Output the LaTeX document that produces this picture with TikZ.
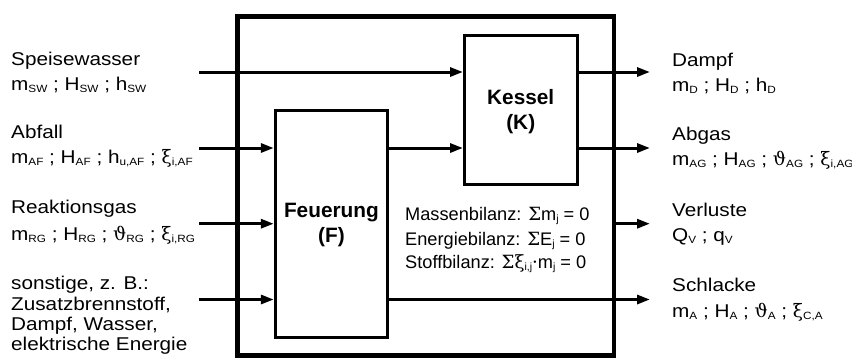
\documentclass[tikz,border=0pt]{standalone}
\usepackage{fontspec}
\setmainfont{Liberation Sans}
\newfontfamily\widefont{Liberation Sans}[FakeStretch=1.12]
\newfontfamily\grkfont{DejaVu Serif}
\usetikzlibrary{arrows.meta}
\newcommand\sbx[1]{\raisebox{-2pt}{\fontsize{10.5}{10.5}\selectfont #1}}
\newcommand\gk[1]{{\grkfont #1}}
\begin{document}
\begin{tikzpicture}[x=1pt,y=-1pt,
  lbl/.style={anchor=base west,inner sep=0pt,font=\widefont\fontsize{18.5}{20}\selectfont},
  bal/.style={anchor=base west,inner sep=0pt,font=\fontsize{18.2}{20}\selectfont},
  ttl/.style={anchor=base,inner sep=0pt,font=\bfseries\fontsize{20.8}{22}\selectfont},
  box/.style={draw,line width=3pt,inner sep=0pt,outer sep=0pt},
  flow/.style={line width=3pt,-{Triangle[length=13pt,width=9pt]}},
]
\useasboundingbox (0,0) rectangle (852,360);
% boxes
\node[box,line width=4.5pt,minimum width=376.5pt,minimum height=338.8pt] (outer) at (425.75,186.1) {};
\node[box,minimum width=112.5pt,minimum height=148.7pt] (K) at (520.75,109.65) {};
\node[box,minimum width=112.2pt,minimum height=226.5pt] (F) at (331.4,223.75) {};
% titles
\node[ttl] (k1) at (520.75,104) {Kessel};
\node[ttl] (k2) at (520.75,129.3) {(K)};
\node[ttl] (f1) at (331.4,217.3) {Feuerung};
\node[ttl] (f2) at (331.4,242.7) {(F)};
% balances
\node[bal] (b1) at (405,220.7) {Massenbilanz: \gk{Σ}m\sbx{j} = 0};
\node[bal] (b2) at (405,245) {Energiebilanz: \gk{Σ}E\sbx{j} = 0};
\node[bal] (b3) at (405,268.3) {Stoffbilanz: \gk{Σξ}\sbx{i,j}\gk{·}m\sbx{j} = 0};
% flow coordinates
\coordinate (sw) at (199,72);
\coordinate (af) at (199,148);
\coordinate (rg) at (199,223.7);
\coordinate (so) at (199,299.5);
\coordinate (dout) at (650,72);
\coordinate (agout) at (650,148);
\coordinate (vout) at (650,223.7);
\coordinate (sout) at (650,299.5);
% arrows
\draw[flow,shorten >=1.5pt] (sw) -- (sw -| K.west);
\draw[flow,shorten >=1.5pt] (af) -- (af -| F.west);
\draw[flow,shorten >=1.5pt] (af -| F.east) -- (af -| K.west);
\draw[flow,shorten >=1.5pt] (rg) -- (rg -| F.west);
\draw[flow,shorten >=1.5pt] (so) -- (so -| F.west);
\draw[flow] (dout -| K.east) -- (dout);
\draw[flow] (agout -| K.east) -- (agout);
\draw[flow] (vout -| outer.east) -- (vout);
\draw[flow] (sout -| F.east) -- (sout);
% left labels
\node[lbl] (sw1) at (11,65) {Speisewasser};
\node[lbl] (sw2) at (11,90.5) {m\sbx{SW} ; H\sbx{SW} ; h\sbx{SW}};
\node[lbl] (af1) at (11,138.3) {Abfall};
\node[lbl] (af2) at (11,163.3) {m\sbx{AF} ; H\sbx{AF} ; h\sbx{u,AF} ; \gk{ξ}\sbx{i,AF}};
\node[lbl] (rg1) at (11,213) {Reaktionsgas};
\node[lbl] (rg2) at (11,240) {m\sbx{RG} ; H\sbx{RG} ; \gk{ϑ}\sbx{RG} ; \gk{ξ}\sbx{i,RG}};
\node[lbl] (so1) at (11,289) {sonstige, z. B.:};
\node[lbl] (so2) at (11,310) {Zusatzbrennstoff,};
\node[lbl] (so3) at (11,330) {Dampf, Wasser,};
\node[lbl] (so4) at (11,350) {elektrische Energie};
% right labels
\node[lbl] (d1) at (672,66) {Dampf};
\node[lbl] (d2) at (672,91.5) {m\sbx{D} ; H\sbx{D} ; h\sbx{D}};
\node[lbl] (ag1) at (672,140) {Abgas};
\node[lbl] (ag2) at (672,165) {m\sbx{AG} ; H\sbx{AG} ; \gk{ϑ}\sbx{AG} ; \gk{ξ}\sbx{i,AG}};
\node[lbl] (v1) at (672,216) {Verluste};
\node[lbl] (v2) at (672,241.5) {Q\sbx{V} ; q\sbx{V}};
\node[lbl] (s1) at (672,291.5) {Schlacke};
\node[lbl] (s2) at (672,317) {m\sbx{A} ; H\sbx{A} ; \gk{ϑ}\sbx{A} ; \gk{ξ}\sbx{C,A}};
\end{tikzpicture}
\end{document}
